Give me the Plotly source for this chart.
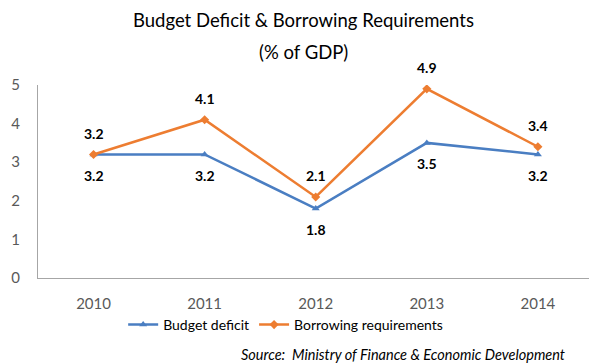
import plotly.graph_objects as go

years = ["2010", "2011", "2012", "2013", "2014"]
budget_deficit = [3.2, 3.2, 1.8, 3.5, 3.2]
borrowing_req = [3.2, 4.1, 2.1, 4.9, 3.4]

BLUE = "#4A7EC2"
ORANGE = "#ED7D31"
FONT = "Lato, 'Open Sans', sans-serif"

fig = go.Figure()

fig.add_trace(go.Scatter(
    x=years, y=budget_deficit, name="Budget deficit",
    mode="lines+markers",
    line=dict(color=BLUE, width=2.5),
    marker=dict(symbol="triangle-up", size=7, color=BLUE),
))

fig.add_trace(go.Scatter(
    x=years, y=borrowing_req, name="Borrowing requirements",
    mode="lines+markers",
    line=dict(color=ORANGE, width=2.5),
    marker=dict(symbol="diamond", size=7, color=ORANGE),
))

# value labels: deficit below its points, borrowing above
# (category axis: annotations are placed by category index)
label_font = dict(family=FONT, size=14, color="black", weight="bold")
annotations = []
for i, v in enumerate(budget_deficit):
    annotations.append(dict(x=i, y=v, xref="x", yref="y", text=f"{v:.1f}",
                            showarrow=False, yshift=-21, font=label_font))
for i, v in enumerate(borrowing_req):
    annotations.append(dict(x=i, y=v, xref="x", yref="y", text=f"{v:.1f}",
                            showarrow=False, yshift=21, font=label_font))

annotations += [
    dict(text="Budget Deficit & Borrowing Requirements", xref="paper", yref="paper",
         x=(303 - 38) / 551, y=(278 - 20) / 193, showarrow=False,
         xanchor="center", yanchor="middle",
         font=dict(family=FONT, size=18.5, color="black")),
    dict(text="(% of GDP)", xref="paper", yref="paper",
         x=(303 - 38) / 551, y=(278 - 52) / 193, showarrow=False,
         xanchor="center", yanchor="middle",
         font=dict(family=FONT, size=18.5, color="black")),
    dict(text="Source:  Ministry of Finance &amp; Economic Development",
         xref="paper", yref="paper",
         x=(567 - 38) / 551, y=(278 - 354) / 193, showarrow=False,
         xanchor="right", yanchor="middle",
         font=dict(family=FONT, size=14.5, color="black", style="italic")),
]

fig.update_layout(
    width=589, height=363,
    margin=dict(l=38, r=0, t=85, b=85, autoexpand=False),
    paper_bgcolor="white", plot_bgcolor="white",
    font=dict(family=FONT, color="#595959"),
    showlegend=True,
    legend=dict(
        orientation="h", xref="container", yref="container",
        x=0.485, xanchor="center", y=(363 - 325) / 363, yanchor="middle",
        font=dict(family=FONT, size=14, color="black"),
        traceorder="normal",
    ),
    xaxis=dict(
        type="category", range=[-0.5, 4.46], automargin=False,
        showgrid=False, showline=True, linecolor="#A6A6A6", linewidth=1,
        ticks="", tickfont=dict(family=FONT, size=15, color="#595959"),
        ticklabelstandoff=12, zeroline=False,
    ),
    yaxis=dict(
        range=[0, 5], tickvals=[0, 1, 2, 3, 4, 5], automargin=False,
        showgrid=False, showline=True, linecolor="#A6A6A6", linewidth=1,
        ticks="", tickfont=dict(family=FONT, size=15, color="#595959"),
        ticklabelstandoff=14, zeroline=False,
    ),
    annotations=annotations,
)

fig.write_html("out.html")
